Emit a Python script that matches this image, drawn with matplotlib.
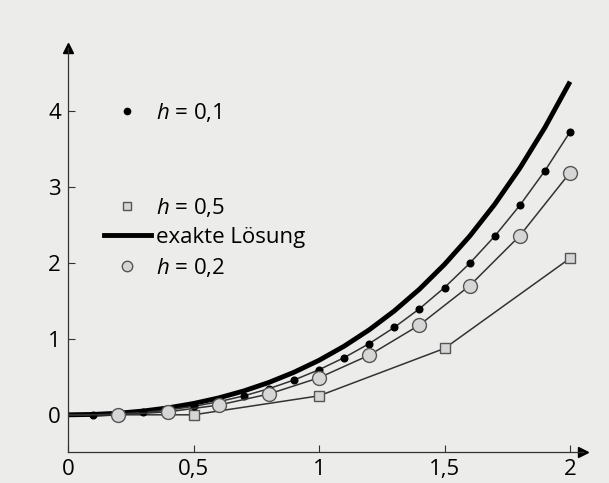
import matplotlib.pyplot as plt
from matplotlib.lines import Line2D

plt.rcParams['font.family'] = ['Open Sans', 'DejaVu Sans']
plt.rcParams['mathtext.fontset'] = 'custom'
plt.rcParams['mathtext.it'] = 'Open Sans:italic'
plt.rcParams['mathtext.rm'] = 'Open Sans'

# exakte Lösung (Schritt 0,1)
x_exakt = [0.0, 0.1, 0.2, 0.3, 0.4, 0.5, 0.6, 0.7, 0.8, 0.9, 1.0,
           1.1, 1.2, 1.3, 1.4, 1.5, 1.6, 1.7, 1.8, 1.9, 2.0]
y_exakt = [0.0, 0.005, 0.021, 0.050, 0.092, 0.149, 0.222, 0.314, 0.426, 0.560, 0.718,
           0.904, 1.120, 1.369, 1.655, 1.982, 2.353, 2.774, 3.250, 3.786, 4.389]

# Näherungen
x_h01 = [0.0, 0.1, 0.2, 0.3, 0.4, 0.5, 0.6, 0.7, 0.8, 0.9, 1.0,
         1.1, 1.2, 1.3, 1.4, 1.5, 1.6, 1.7, 1.8, 1.9, 2.0]
y_h01 = [0.0, 0.0, 0.010, 0.031, 0.064, 0.111, 0.172, 0.249, 0.344, 0.458, 0.594,
         0.753, 0.938, 1.152, 1.397, 1.677, 1.995, 2.354, 2.760, 3.216, 3.727]

x_h02 = [0.0, 0.2, 0.4, 0.6, 0.8, 1.0, 1.2, 1.4, 1.6, 1.8, 2.0]
y_h02 = [0.0, 0.0, 0.040, 0.128, 0.274, 0.488, 0.786, 1.183, 1.700, 2.360, 3.192]

x_h05 = [0.0, 0.5, 1.0, 1.5, 2.0]
y_h05 = [0.0, 0.0, 0.25, 0.875, 2.0625]

x_ticks = [0, 0.5, 1, 1.5, 2]
x_ticklabels = ['0', '0,5', '1', '1,5', '2']
y_ticks = [0, 1, 2, 3, 4]

bg = '#ececea'
fill = '#d6d6d6'
dark = '#333333'

fig = plt.figure(figsize=(6.09, 4.83), dpi=100, facecolor=bg)
ax = fig.add_axes([68/609, 31/483, 0.845, 0.836], facecolor=bg)

ax.plot(x_h05, y_h05, color=dark, lw=1.1, marker='s', ms=7.5, mfc=fill, mec='#555555',
        mew=1, markevery=slice(1, None), zorder=3)
ax.plot(x_exakt, y_exakt, color='black', lw=3.5, solid_capstyle='butt', zorder=2)
ax.plot(x_h01, y_h01, color=dark, lw=1.1, marker='o', ms=4.8, mfc='black', mec='black',
        markevery=slice(1, None), zorder=4)
ax.plot(x_h02, y_h02, color=dark, lw=1.1, marker='o', ms=10, mfc=fill, mec='#555555',
        mew=1, markevery=slice(1, None), zorder=5)

ax.set_xlim(0, 2.05)
ax.set_ylim(-0.49, 4.83)
ax.set_xticks(x_ticks)
ax.set_xticklabels(x_ticklabels)
ax.set_yticks(y_ticks)
ax.tick_params(direction='in', length=5, width=0.8, labelsize=16, pad=5, color=dark)
for s in ['top', 'right']:
    ax.spines[s].set_visible(False)
for s in ['left', 'bottom']:
    ax.spines[s].set_linewidth(0.9)
    ax.spines[s].set_color(dark)
ax.plot(1, 0, '>', color='black', ms=7, transform=ax.transAxes, clip_on=False)
ax.plot(0, 1, '^', color='black', ms=7, transform=ax.transAxes, clip_on=False)

h1 = [Line2D([], [], ls='none', marker='o', ms=4.5, mfc='black', mec='black')]
leg1 = ax.legend(h1, ['$h$ = 0,1'], loc='upper left', bbox_to_anchor=(0.054, 0.92),
                 frameon=False, fontsize=16, handlelength=1.0, handletextpad=0.8)
ax.add_artist(leg1)
h2 = [Line2D([], [], ls='none', marker='s', ms=6, mfc=fill, mec='#555555'),
      Line2D([], [], color='black', lw=3.5),
      Line2D([], [], ls='none', marker='o', ms=7.5, mfc=fill, mec='#555555')]
ax.legend(h2, ['$h$ = 0,5', 'exakte Lösung', '$h$ = 0,2'], loc='upper left',
          bbox_to_anchor=(0.031, 0.683), frameon=False, fontsize=16,
          handlelength=2.1, handletextpad=0.22, labelspacing=0.35)

fig.savefig('out.png', dpi=100, facecolor=bg)
